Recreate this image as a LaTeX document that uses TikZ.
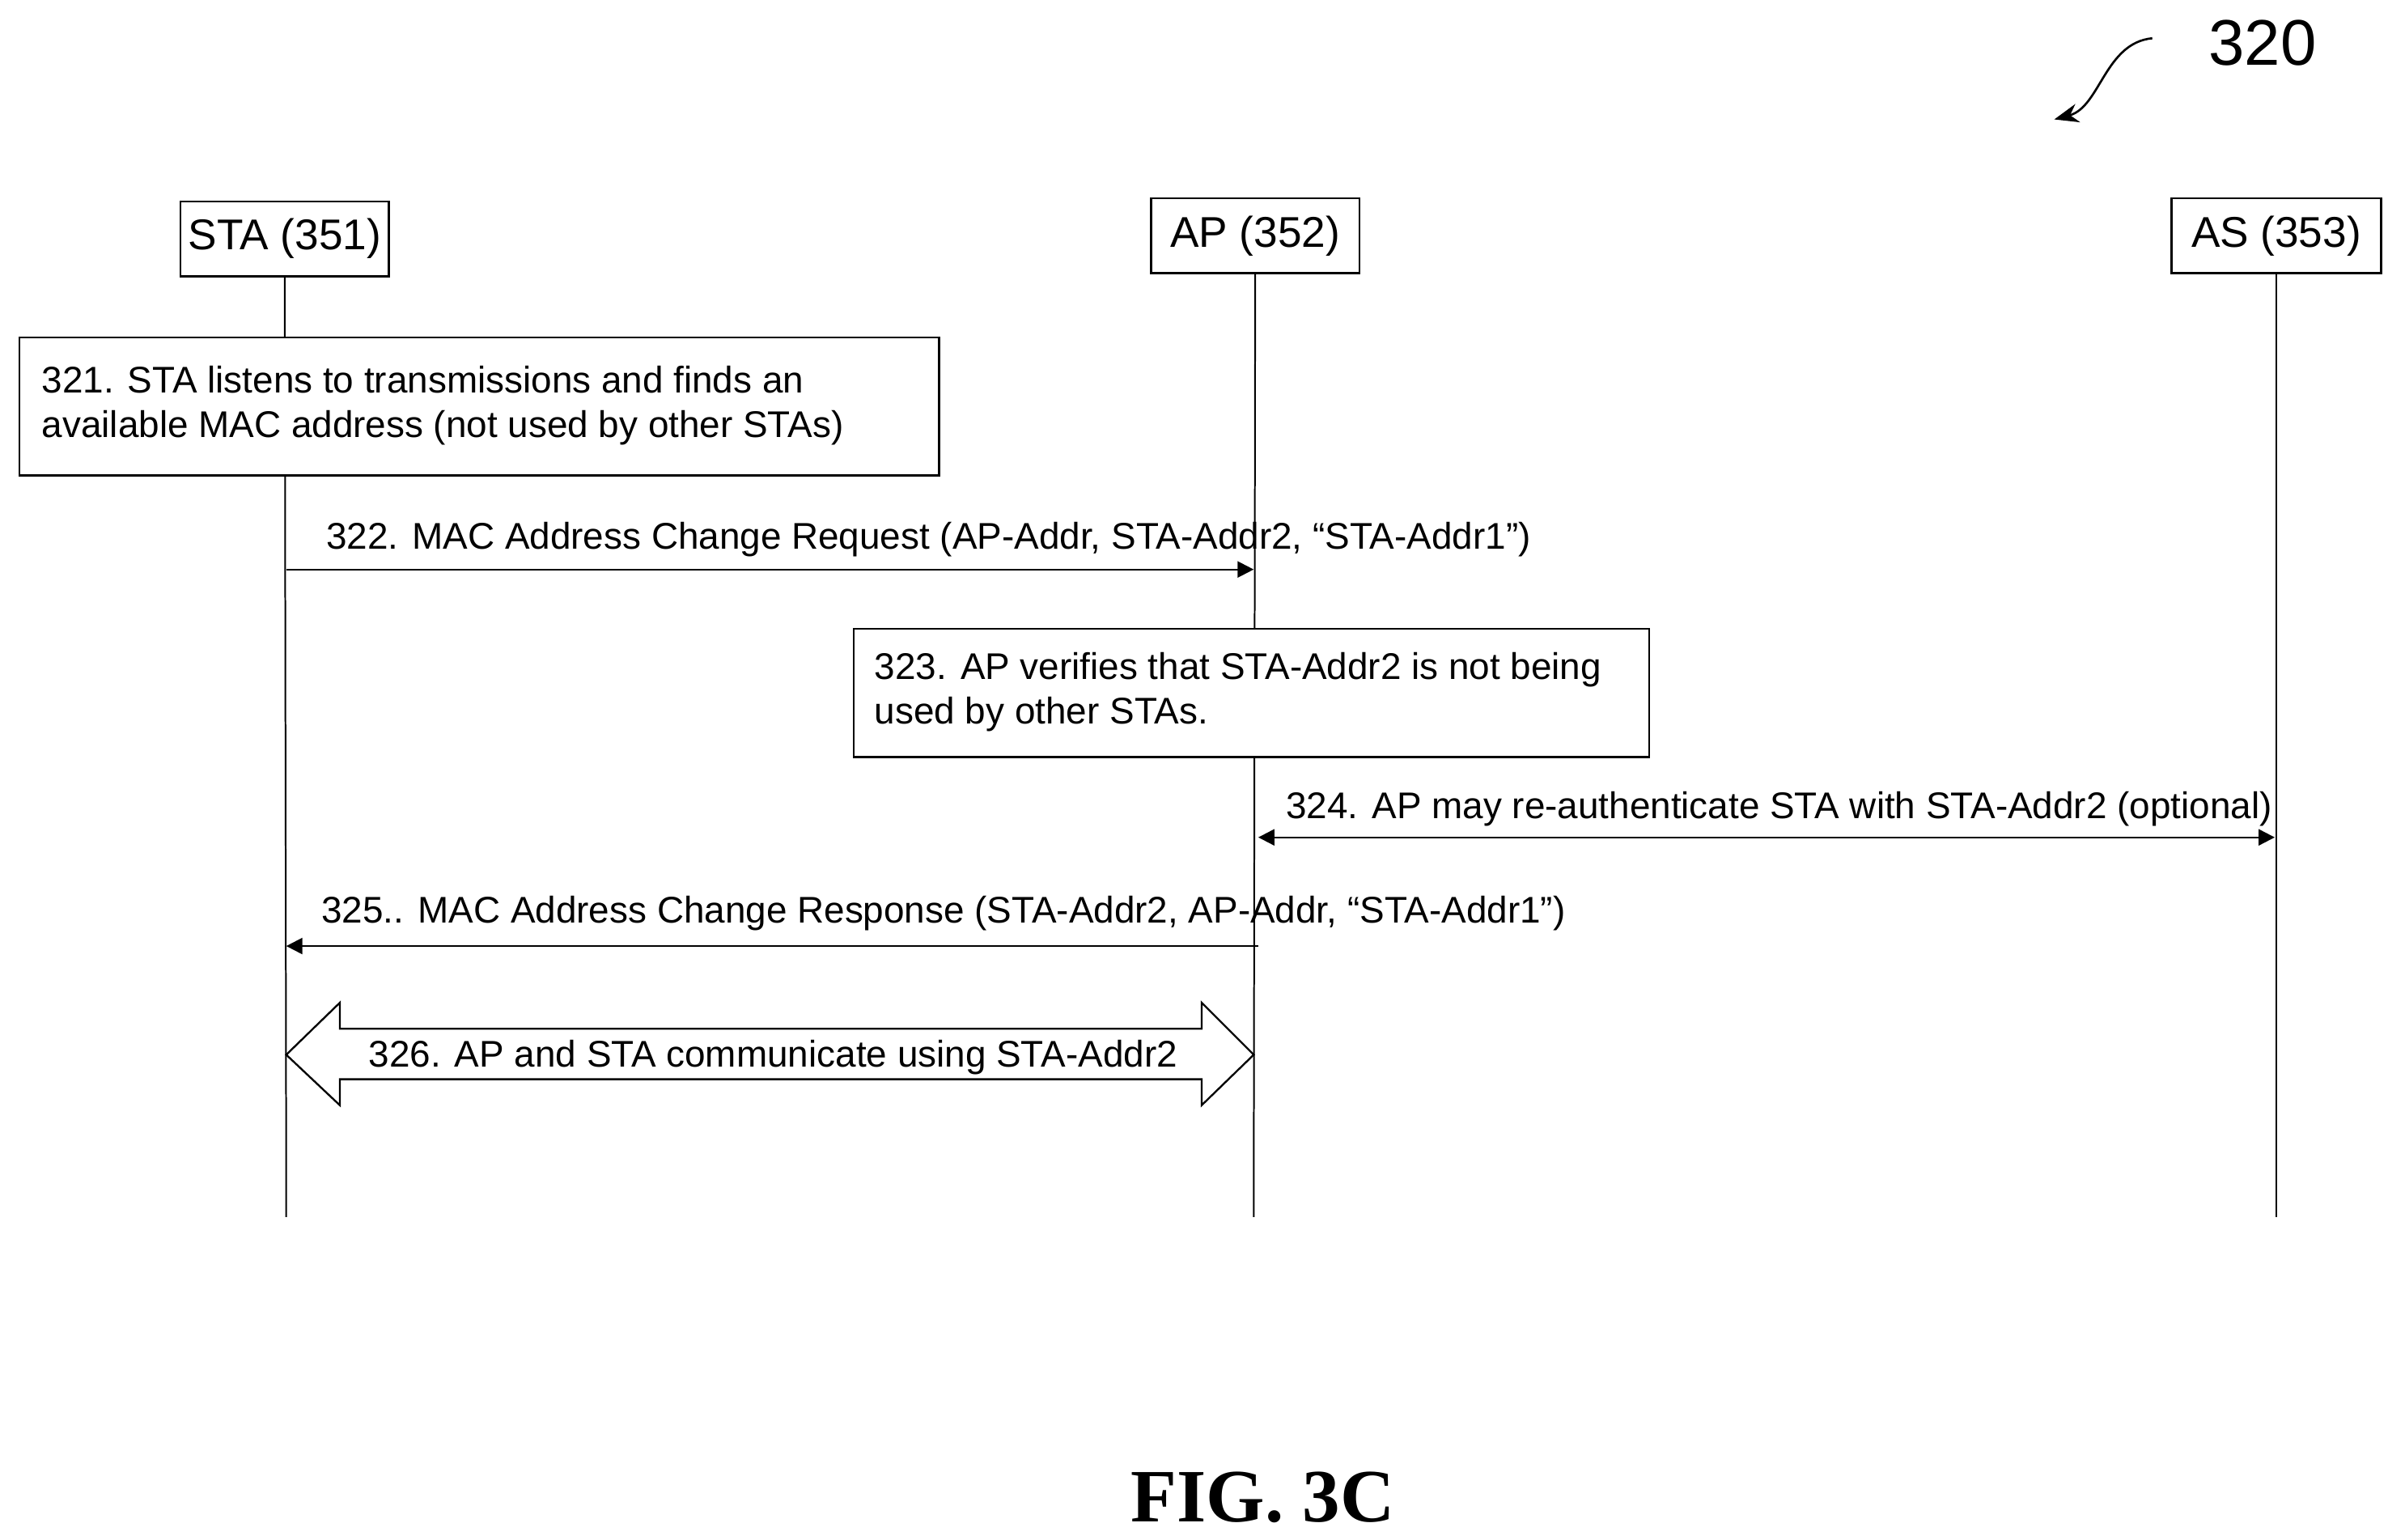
\documentclass[tikz,border=0pt]{standalone}
\usepackage{fontspec}
\setmainfont{Liberation Sans}
\newfontfamily\figfont{Liberation Serif}
\usetikzlibrary{arrows.meta}
\begin{document}
\begin{tikzpicture}[x=0.02cm,y=-0.02cm,
  entity/.style={draw,line width=0.7pt,minimum height=0.98cm,inner sep=0pt,font=\fontsize{16}{18}\selectfont},
  stepbox/.style={draw,line width=0.7pt,anchor=north west,inner sep=0pt,fill=white},
  steptext/.style={anchor=west,align=left,inner sep=0pt,font=\fontsize{13.8}{16.5}\selectfont},
  msg/.style={font=\fontsize{13.8}{15}\selectfont,anchor=south west,inner sep=1pt},
  life/.style={line width=0.6pt},
  sig/.style={line width=0.7pt,-{Triangle[length=6pt,width=6pt]}}]
\useasboundingbox (0,0) rectangle (1560,1006);
% entities
\node[entity,minimum width=2.72cm] (sta) at (186,156) {STA (351)};
\node[entity,minimum width=2.72cm] (ap) at (820,154) {AP (352)};
\node[entity,minimum width=2.74cm] (as) at (1487,154) {AS (353)};
\coordinate (staend) at (187,795);
\coordinate (apend) at (819,795);
\coordinate (asend) at (1487,795);
\draw[life] (sta.south) -- (staend);
\draw[life] (ap.south) -- (apend);
\draw[life] (as.south) -- (asend);
% steps
\node[stepbox,minimum width=12.02cm,minimum height=1.8cm] (s321) at (12,220) {};
\node[steptext] (t321) at (27,265) {321. STA listens to transmissions and finds an\\available MAC address (not used by other STAs)};
\coordinate (a322s) at (187,372);
\coordinate (a322e) at (819,372);
\draw[sig] (a322s) -- (a322e);
\node[msg] (t322) at (211,366) {322. MAC Address Change Request (AP-Addr, STA-Addr2, “STA-Addr1”)};
\node[stepbox,minimum width=10.4cm,minimum height=1.68cm] (s323) at (557,410) {};
\node[steptext] (t323) at (571,452) {323. AP verifies that STA-Addr2 is not being\\used by other STAs.};
\coordinate (a324s) at (822,547);
\coordinate (a324e) at (1486,547);
\draw[sig,{Triangle[length=6pt,width=6pt]}-{Triangle[length=6pt,width=6pt]}] (a324s) -- (a324e);
\node[msg] (t324) at (838,542) {324. AP may re-authenticate STA with STA-Addr2 (optional)};
\coordinate (a325s) at (822,618);
\coordinate (a325e) at (187,618);
\draw[sig] (a325s) -- (a325e);
\node[msg] (t325) at (208,610) {325.. MAC Address Change Response (STA-Addr2, AP-Addr, “STA-Addr1”)};
% big double arrow
\draw[line width=0.7pt,fill=white] (187,689) -- (222,655) -- (222,672) -- (785,672) -- (785,655) -- (819,689)
  -- (785,722) -- (785,705) -- (222,705) -- (222,722) -- cycle;
\node[font=\fontsize{13.8}{15}\selectfont] (t326) at (505,691) {326. AP and STA communicate using STA-Addr2};
% figure label
\node[font=\fontsize{24}{26}\selectfont] (num) at (1478,28) {320};
\coordinate (numtip) at (1342,78);
\draw[line width=0.8pt,-{Stealth[length=9pt,width=7pt]}] (1406,25) .. controls (1375,28) and (1372,70) .. (numtip);
\node[font=\figfont\bfseries\fontsize{28}{30}\selectfont] (fig) at (825,978) {FIG. 3C};
\end{tikzpicture}
\end{document}
